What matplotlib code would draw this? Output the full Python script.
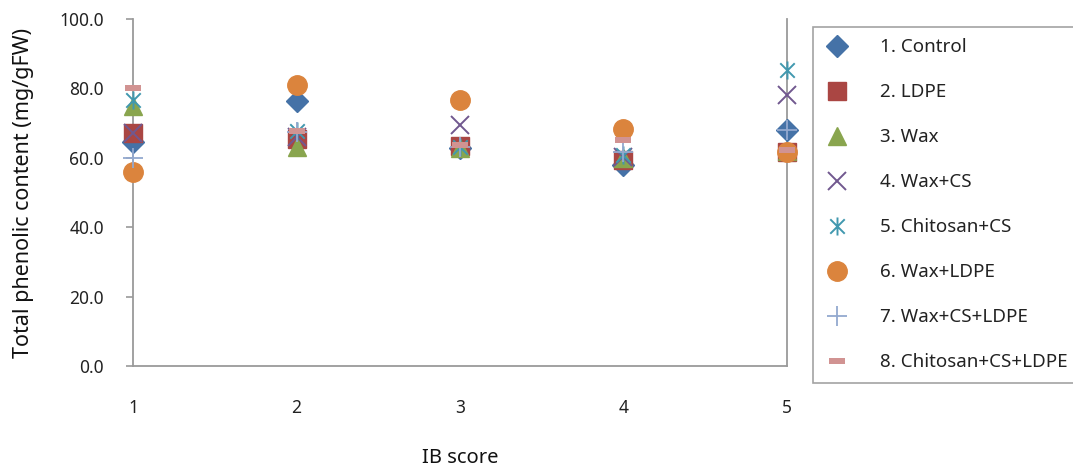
import matplotlib
matplotlib.use("Agg")
import matplotlib.pyplot as plt
from matplotlib.path import Path

plt.rcParams['font.family'] = ['Noto Sans', 'DejaVu Sans']

ib_score = [1, 2, 3, 4, 5]
series_names = ["1. Control", "2. LDPE", "3. Wax", "4. Wax+CS", "5. Chitosan+CS",
                "6. Wax+LDPE", "7. Wax+CS+LDPE", "8. Chitosan+CS+LDPE"]
control = [64.5, 76.5, 62.8, 58.0, 68.0]
ldpe = [67.2, 65.4, 63.4, 59.5, 61.8]
wax = [75.0, 63.1, 62.8, 60.0, 62.0]
wax_cs = [67.2, 66.0, 69.5, 60.2, 78.2]
chitosan_cs = [76.8, 67.8, 63.0, 60.8, 85.3]
wax_ldpe = [55.9, 81.0, 76.7, 68.4, 61.8]
wax_cs_ldpe = [60.0, 67.4, 63.2, 61.6, 68.0]
chitosan_cs_ldpe = [80.2, 67.8, 63.6, 65.2, 62.2]

yticks = [0, 20, 40, 60, 80, 100]

# asterisk marker: two diagonals plus a vertical stroke
star = Path([(-1, -1), (1, 1), (-1, 1), (1, -1), (0, -1.25), (0, 1.25)],
            [Path.MOVETO, Path.LINETO, Path.MOVETO, Path.LINETO, Path.MOVETO, Path.LINETO])
# short flat dash marker
dash = Path([(-1, -0.42), (1, -0.42), (1, 0.42), (-1, 0.42), (-1, -0.42)],
            [Path.MOVETO, Path.LINETO, Path.LINETO, Path.LINETO, Path.CLOSEPOLY])

styles = [
    dict(marker='D', ms=11.5, mfc='#4572A7', mec='#4572A7'),
    dict(marker='s', ms=13, mfc='#AA4643', mec='#AA4643'),
    dict(marker='^', ms=13, mfc='#89A54E', mec='#89A54E'),
    dict(marker='x', ms=13, mew=1.4, mec='#71588F'),
    dict(marker=star, ms=13, mew=1.4, mfc='none', mec='#4198AF'),
    dict(marker='o', ms=14, mfc='#DB843D', mec='#DB843D'),
    dict(marker='+', ms=15, mew=1.3, mec='#93A9CF'),
    dict(marker=dash, ms=11, mfc='#D19392', mec='#D19392', mew=0),
]
data = [control, ldpe, wax, wax_cs, chitosan_cs, wax_ldpe, wax_cs_ldpe, chitosan_cs_ldpe]

W, H = 1073, 468
fig = plt.figure(figsize=(W / 100, H / 100), dpi=100)
ax = fig.add_axes([133 / W, (H - 366) / H, (787 - 133) / W, (366 - 19) / H])

handles = []
for name, vals, st in zip(series_names, data, styles):
    h, = ax.plot(ib_score, vals, linestyle='none', clip_on=False, label=name, **st)
    handles.append(h)

ax.set_xlim(1, 5)
ax.set_ylim(0, 100)
ax.set_yticks(yticks)
ax.set_yticklabels([f"{v:.1f}" for v in yticks])
ax.set_xticks(ib_score)

ax.spines['top'].set_visible(False)
for side in ['left', 'right', 'bottom']:
    ax.spines[side].set_color('#9a9a9a')
    ax.spines[side].set_linewidth(1.3)
    ax.spines[side].set_zorder(0)

ax.tick_params(axis='y', length=5, width=1.2, color='#9a9a9a', pad=16, labelsize=12.5, labelcolor='#222222')
ax.tick_params(axis='x', length=0, pad=24, labelsize=12.5, labelcolor='#222222')

ax.set_xlabel("IB score", fontsize=14.5, color='#111111', labelpad=22)
ax.set_ylabel("Total phenolic content (mg/gFW)", fontsize=15.5, color='#111111', labelpad=18)

leg = fig.legend(handles=handles, loc='upper left',
                 bbox_to_anchor=(813 / W, (H - 27) / H),
                 frameon=True, fancybox=False, edgecolor='#8c8c8c',
                 fontsize=13.5, labelspacing=1.44, handlelength=1.4,
                 handletextpad=1.6, borderpad=0.6, borderaxespad=0)
leg.get_frame().set_linewidth(1.2)
for t in leg.get_texts():
    t.set_color('#222222')

fig.savefig("out.png", dpi=100)
